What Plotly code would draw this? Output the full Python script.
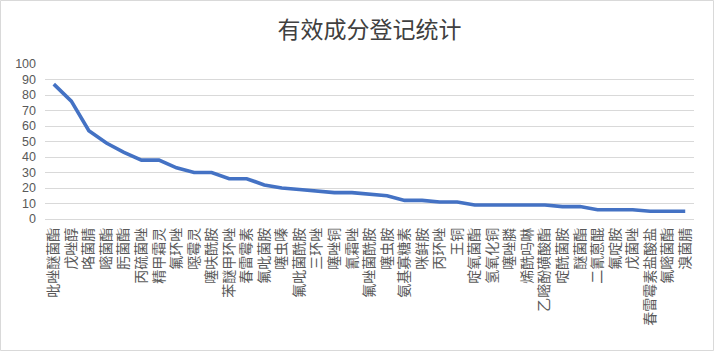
import plotly.graph_objects as go

categories = [
    "吡唑醚菌酯", "戊唑醇", "咯菌腈", "嘧菌酯", "肟菌酯", "丙硫菌唑", "精甲霜灵",
    "氟环唑", "噁霉灵", "噻呋酰胺", "苯醚甲环唑", "春雷霉素", "氟吡菌胺", "噻虫嗪",
    "氟吡菌酰胺", "三环唑", "噻唑铜", "氰霜唑", "氟唑菌酰胺", "噻虫胺", "氨基寡糖素",
    "咪鲜胺", "丙环唑", "王铜", "啶氧菌酯", "氢氧化铜", "噻唑膦", "烯酰吗啉",
    "乙嘧酚磺酸酯", "啶酰菌胺", "醚菌酯", "二氰蒽醌", "氟啶胺", "戊菌唑",
    "春雷霉素盐酸盐", "氟嘧菌酯", "溴菌腈",
]
values = [87, 76, 57, 49, 43, 38, 38, 33, 30, 30, 26, 26, 22, 20, 19, 18, 17, 17,
          16, 15, 12, 12, 11, 11, 9, 9, 9, 9, 9, 8, 8, 6, 6, 6, 5, 5, 5]
y_ticks = list(range(0, 101, 10))
title_text = "有效成分登记统计"

W, H = 714, 351
ML, MR, MT, MB = 45, 20, 64, 132

fig = go.Figure()
fig.add_trace(go.Scatter(
    x=categories, y=values, mode="lines",
    line=dict(color="#4472C4", width=3.6),
    hoverinfo="x+y",
))

pw = W - ML - MR
ph = H - MT - MB
fig.add_shape(type="rect", xref="paper", yref="paper",
              x0=(-ML + 0.5) / pw, x1=(pw + MR - 0.5) / pw,
              y0=(-MB + 0.5) / ph, y1=(ph + MT - 0.5) / ph,
              line=dict(color="#D9D9D9", width=1), layer="below")

fig.update_layout(
    width=W, height=H,
    margin=dict(l=ML, r=MR, t=MT, b=MB, pad=0),
    paper_bgcolor="white", plot_bgcolor="white",
    showlegend=False,
    title=dict(text=title_text, x=0.5, xref="paper", xanchor="center",
               y=1 - 30 / H, yanchor="middle",
               font=dict(family="Noto Sans CJK SC", size=23, color="#404040")),
    xaxis=dict(
        type="category", tickangle=-90,
        tickfont=dict(family="Noto Sans CJK SC", size=14, color="#595959"),
        showgrid=False, showline=False, zeroline=False, ticks="",
        ticklabelstandoff=5,
        range=[-0.5, len(categories) - 0.5],
    ),
    yaxis=dict(
        range=[0, 100], tickvals=y_ticks,
        tickfont=dict(family="Liberation Sans", size=12.5, color="#595959"),
        showgrid=True, gridcolor="#D9D9D9", gridwidth=1,
        zeroline=True, zerolinecolor="#D9D9D9", zerolinewidth=1,
        showline=False, ticks="", ticklabelstandoff=8,
    ),
)

fig.write_html("out.html")
